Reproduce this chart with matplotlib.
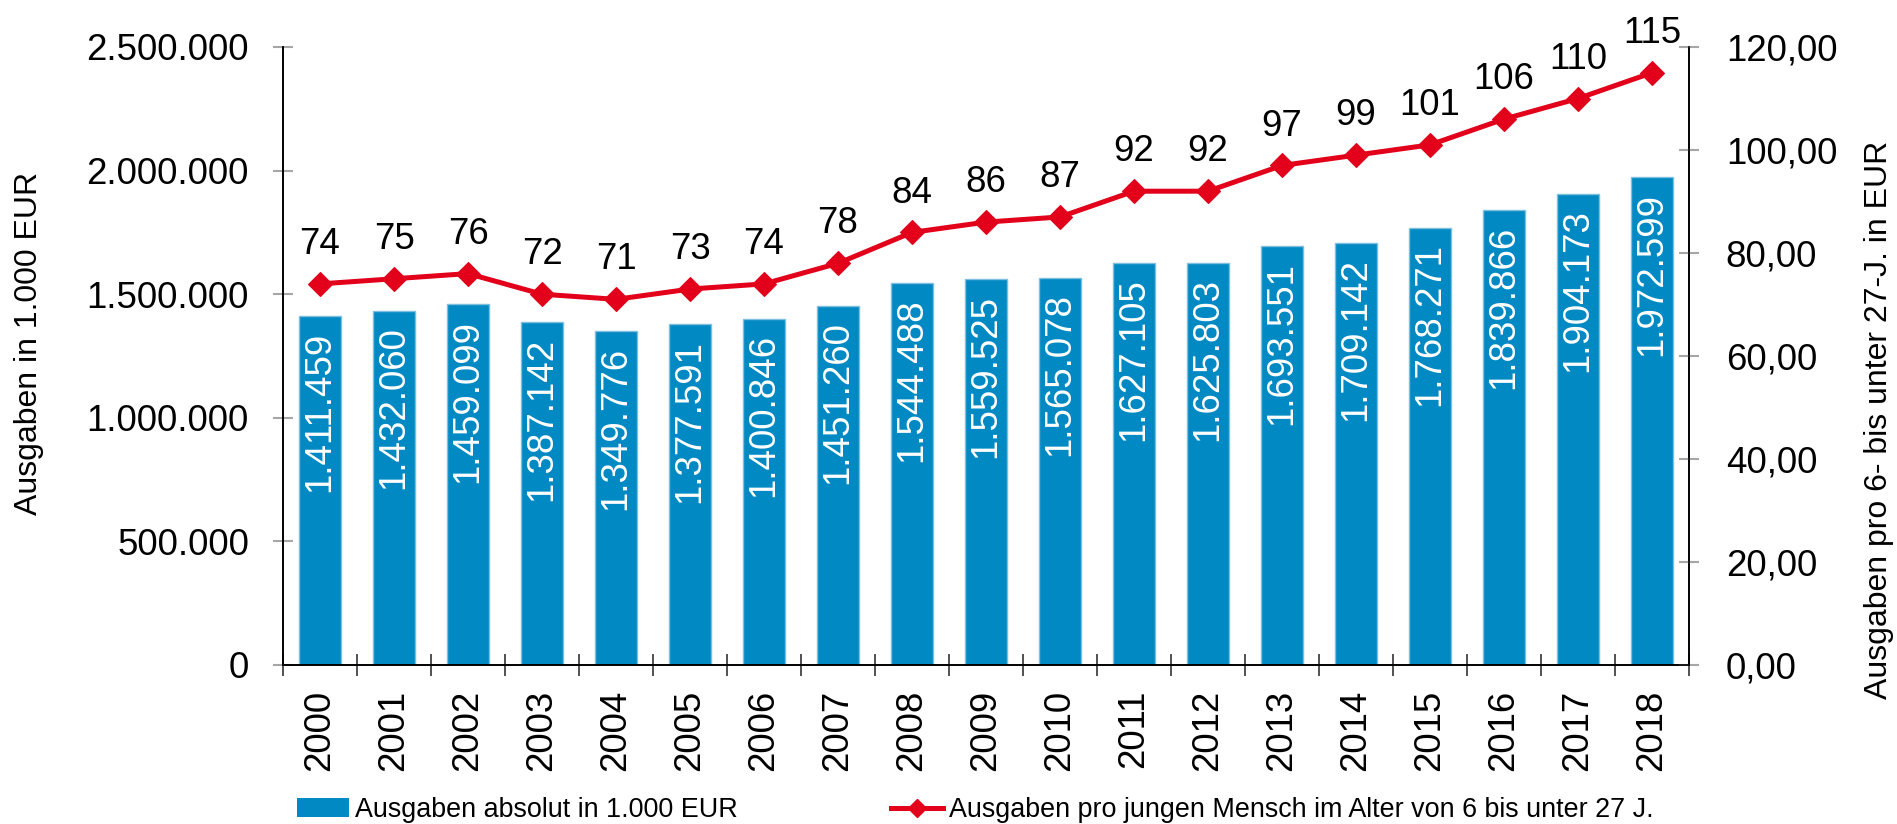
import matplotlib
matplotlib.use("Agg")
import matplotlib.pyplot as plt
from matplotlib.patches import Patch
from matplotlib.lines import Line2D

plt.rcParams['font.family'] = ['Liberation Sans', 'DejaVu Sans']

years = ["2000", "2001", "2002", "2003", "2004", "2005", "2006", "2007", "2008", "2009",
         "2010", "2011", "2012", "2013", "2014", "2015", "2016", "2017", "2018"]
ausgaben_absolut = [1411459, 1432060, 1459099, 1387142, 1349776, 1377591, 1400846, 1451260,
                    1544488, 1559525, 1565078, 1627105, 1625803, 1693551, 1709142, 1768271,
                    1839866, 1904173, 1972599]
ausgaben_pro_kopf = [74, 75, 76, 72, 71, 73, 74, 78, 84, 86, 87, 92, 92, 97, 99, 101, 106, 110, 115]
left_ticks = [0, 500000, 1000000, 1500000, 2000000, 2500000]
right_ticks = [0, 20, 40, 60, 80, 100, 120]

BLUE = '#0089C3'
RED = '#E2001A'

def de_int(v):
    return f"{v:,.0f}".replace(",", ".")

def de_dec(v):
    return f"{v:.2f}".replace(".", ",")

W, H = 1897, 824
fig = plt.figure(figsize=(W / 100, H / 100), dpi=100)
ax = fig.add_axes([283 / W, 1 - 665 / H, (1689 - 283) / W, (665 - 47) / H])
ax2 = ax.twinx()

x = list(range(len(years)))
ax.bar(x, ausgaben_absolut, width=0.58, color=BLUE, edgecolor='#7DBFDD', linewidth=1.0, zorder=2)
for xi, v in zip(x, ausgaben_absolut):
    ax.annotate(de_int(v), xy=(xi, v), xytext=(0, -11), textcoords='offset points',
                rotation=90, ha='center', va='top', color='white', fontsize=26.4, zorder=3)

ax2.plot(x, ausgaben_pro_kopf, color=RED, linewidth=3.6, marker='D', markersize=12,
         markeredgewidth=0.8, markeredgecolor=RED, zorder=4)
for xi, v in zip(x, ausgaben_pro_kopf):
    ax2.annotate(f"{v}", xy=(xi, v), xytext=(0, 21.5), textcoords='offset points',
                 ha='center', va='baseline', fontsize=26.4, color='black')

ax.set_xlim(-0.5, len(years) - 0.5)
ax.set_ylim(0, 2500000)
ax2.set_ylim(0, 120)

ax.set_yticks(left_ticks)
ax.set_yticklabels([de_int(v) for v in left_ticks])
ax2.set_yticks(right_ticks)
ax2.set_yticklabels([de_dec(v) for v in right_ticks])

ax.set_xticks(x)
ax.set_xticklabels(years, rotation=90, fontsize=26.4)
ax.set_xticks([i - 0.5 for i in range(len(years) + 1)], minor=True)
ax.tick_params(axis='x', which='major', length=0, pad=18)
ax.tick_params(axis='x', which='minor', direction='inout', length=16, width=1.2, color='#333333')

ax.tick_params(axis='y', direction='inout', length=15, width=1.5, color='#A6A6A6',
               labelsize=26.4, pad=17)
ax2.tick_params(axis='y', direction='inout', length=15, width=1.5, color='#A6A6A6',
                labelsize=26.4, pad=19)

for a in (ax, ax2):
    a.spines['top'].set_visible(False)
    for s in ('left', 'right', 'bottom'):
        a.spines[s].set_linewidth(1.2)
        a.spines[s].set_color('black')
    a.set_facecolor('none')

fig.text(29 / W, 1 - 343 / H, "Ausgaben in 1.000 EUR", rotation=90, ha='center', va='center',
         fontsize=23)
fig.text(1879 / W, 1 - 420 / H, "Ausgaben pro 6- bis unter 27-J. in EUR", rotation=90,
         ha='center', va='center', fontsize=23)

handles = [Patch(facecolor=BLUE, edgecolor='none'),
           Line2D([0], [0], color=RED, linewidth=3.6, marker='D', markersize=9,
                  markeredgecolor=RED)]
labels = ["Ausgaben absolut in 1.000 EUR",
          "Ausgaben pro jungen Mensch im Alter von 6 bis unter 27 J."]
fig.legend(handles, labels, loc='center left', bbox_to_anchor=(297 / W, 1 - 810 / H),
           ncol=2, frameon=False, fontsize=19.4, borderpad=0, borderaxespad=0,
           handlelength=1.93, handletextpad=0.22, columnspacing=5.68)

fig.savefig("out.png", dpi=100)
